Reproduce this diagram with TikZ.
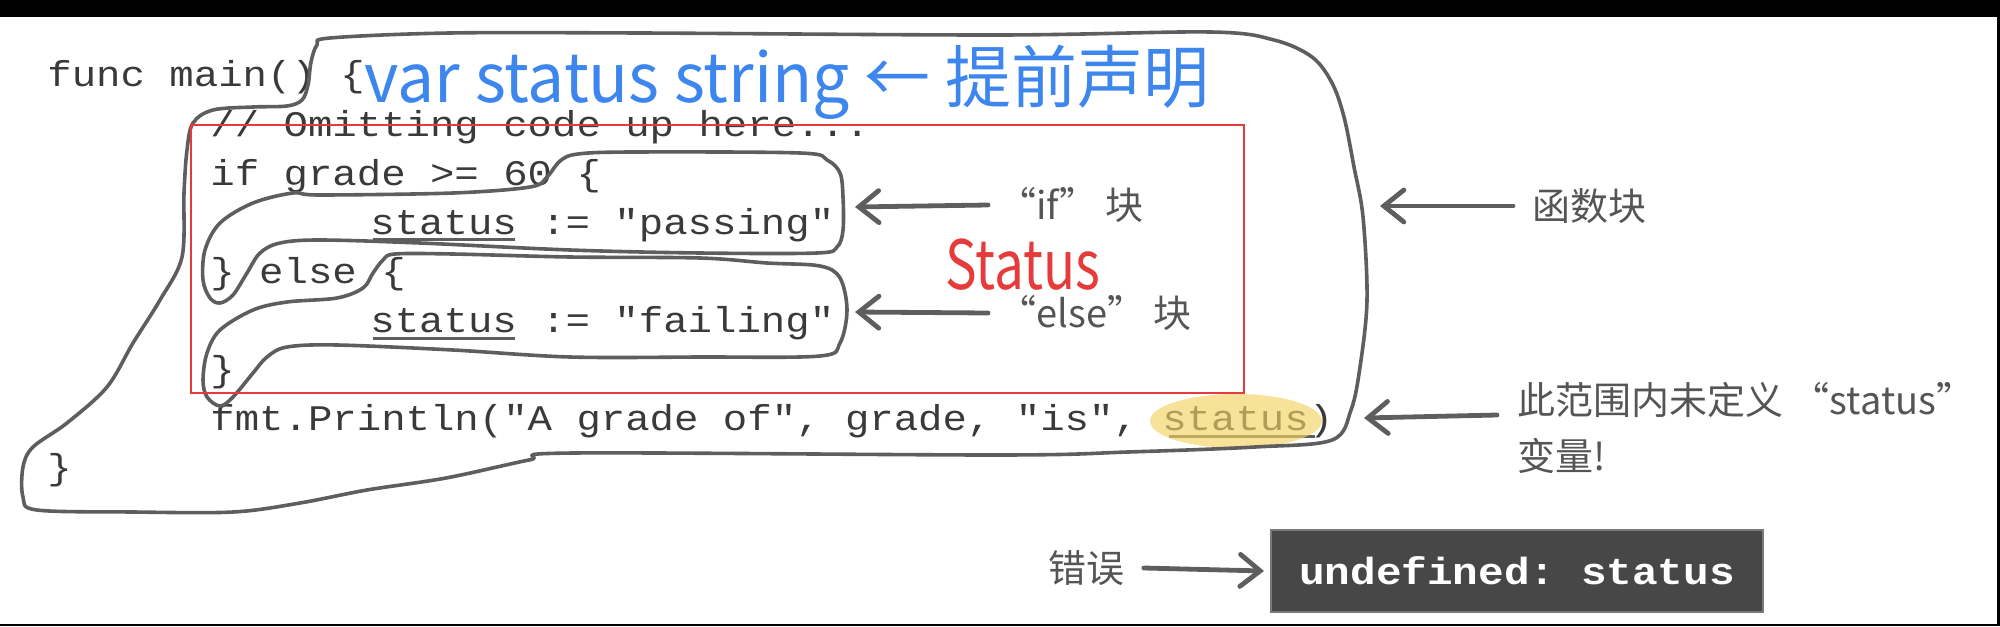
\documentclass[tikz,border=0pt]{standalone}
\usepackage{fontspec}
\setmonofont{Liberation Mono}[FakeStretch=1.13]
\newfontfamily\cjk{Noto Sans CJK SC}
\usetikzlibrary{arrows.meta, positioning}
\definecolor{codegray}{HTML}{3A3A3A}
\definecolor{loopgray}{HTML}{5E5E5E}
\definecolor{notegray}{HTML}{555555}
\definecolor{handblue}{HTML}{3D86EE}
\definecolor{handred}{HTML}{E53B3B}
\definecolor{boxgray}{HTML}{474747}
\definecolor{boxedge}{HTML}{7A7A7A}
\definecolor{hiyellow}{HTML}{F5D264}
\newcommand{\codefont}{\ttfamily\fontsize{18}{24}\selectfont}
\newcommand{\notefont}{\cjk\fontsize{19}{28}\selectfont}
\tikzset{
  code/.style={font=\codefont, text=codegray, inner sep=0pt, anchor=base west},
  loop/.style={draw=loopgray, line width=1.8pt, line cap=round, line join=round},
  note/.style={font=\notefont, text=notegray, inner sep=0pt, anchor=west, align=left},
  pointer/.style={draw=loopgray, line width=2.4pt, line cap=round,
    -{Straight Barb[length=10pt, width=16pt, line cap=round]}},
  uline/.style={draw=loopgray, line width=1.5pt},
  errbox/.style={fill=boxgray, draw=boxedge, line width=1pt, text=white,
    font=\ttfamily\bfseries\fontsize{18.9}{24}\selectfont,
    minimum width=246pt, minimum height=41pt, inner sep=0pt}
}
\begin{document}
\begin{tikzpicture}[x=.5pt, y=-.5pt]
  \useasboundingbox (0,0) rectangle (2000,626);
  \fill[black] (0,0) rectangle (2000,17);
  \fill[black] (1997,0) rectangle (2000,626);
  \fill[black] (0,623.5) rectangle (2000,626);

  % the code
  \node[code] (func) at (47,87) {func main() \{};
  \node[code] (omit) at (210,136) {// Omitting code up here...};
  \node[code] (ifline) at (210,185) {if grade >= 60 \{};
  \node[code] (pass) at (370,234) {status := "passing"};
  \node[code] (elseline) at (210,283) {\} else \{};
  \node[code] (fail) at (370,332) {status := "failing"};
  \node[code] (ifclose) at (210,381) {\}};
  \node[code] (println) at (210,430) {fmt.Println("A grade of", grade, "is", status)};
  \node[code] (fnclose) at (47,479) {\}};
  \draw[uline] (373,239) -- (515,239);
  \draw[uline] (373,338) -- (515,338);
  \draw[uline] (1169,436) -- (1315,436);
  \fill[hiyellow, opacity=.65] (1236,421) ellipse [x radius=43pt, y radius=13.5pt];

  % hand drawn blocks
  \draw[loop] plot[smooth cycle, tension=.55] coordinates {
    (193,123) (213,110) (253,107) (287,106) (302,100) (308,85) (311,62)
    (317,45) (330,38) (450,33) (640,33) (1000,35) (1210,32) (1274,40)
    (1312,57) (1332,83) (1344,117) (1354,167) (1363,217) (1367,300)
    (1360,367) (1351,410) (1332,440) (1255,447) (1128,452) (1000,455)
    (574,453) (529,460) (446,478) (367,490) (300,503) (233,512) (133,512)
    (37,510) (23,497) (23,467) (33,447) (67,423) (107,387) (133,343)
    (160,300) (182,257) (184,193) (187,150)};
  \draw[loop] plot[smooth cycle, tension=.55] coordinates {
    (547,177) (560,161) (578,154) (633,152) (800,153) (827,160) (840,173)
    (843,197) (843,230) (837,247) (817,253) (700,253) (570,250) (420,243)
    (320,240) (280,243) (260,253) (247,273) (233,295) (220,303) (210,298)
    (203,280) (205,250) (220,223) (253,203) (293,193) (320,195) (453,193)
    (530,187)};
  \draw[loop] plot[smooth cycle, tension=.55] coordinates {
    (363,288) (373,273) (383,260) (395,254) (453,254) (570,257) (700,258)
    (767,263) (820,266) (840,278) (847,310) (840,343) (820,356) (700,357)
    (570,357) (453,350) (337,345) (287,347) (267,357) (253,373) (233,397)
    (220,406) (207,397) (203,380) (207,353) (220,330) (253,310) (287,302)
    (337,298)};

  \draw[handred, line width=1pt] (191,125) rectangle (1244,393);
  \node[font=\cjk\fontsize{34}{36}\selectfont, text=handblue, inner sep=0pt]
    (hint) at (787,82) {\scalebox{.97}[1]{var status string ← 提前声明}};
  \node[font=\cjk\fontsize{34}{36}\selectfont, text=handred, inner sep=0pt] (scopevar)
    at (1023,265) {\scalebox{.78}[1]{Status}};

  % notes
  \coordinate (iftip) at (855,207);
  \coordinate (elsetip) at (855,312);
  \coordinate (fntip) at (1380,206);
  \coordinate (scopetip) at (1364,418);
  \node[note] (iflbl) at (998,205) {“if” 块};
  \node[note] (elselbl) at (998,313) {“else” 块};
  \node[note] (fnlbl) at (1532,206) {函数块};
  \node[note] (scopelbl) at (1517,428) {此范围内未定义 “status”\\变量!};
  \node[note] (errlbl) at (1048,568) {错误};
  \node[errbox] (err) at (1517,571) {undefined: status};
  \draw[pointer] ([xshift=-5pt]iflbl.west) -- (iftip);
  \draw[pointer] ([xshift=-5pt]elselbl.west) -- (elsetip);
  \draw[pointer] ([xshift=-9.5pt]fnlbl.west) -- (fntip);
  \draw[pointer] ([xshift=-10pt, yshift=6.5pt]scopelbl.west) -- (scopetip);
  \draw[pointer] ([xshift=9.5pt]errlbl.east) -- ([xshift=-3pt]err.west);
\end{tikzpicture}
\end{document}
